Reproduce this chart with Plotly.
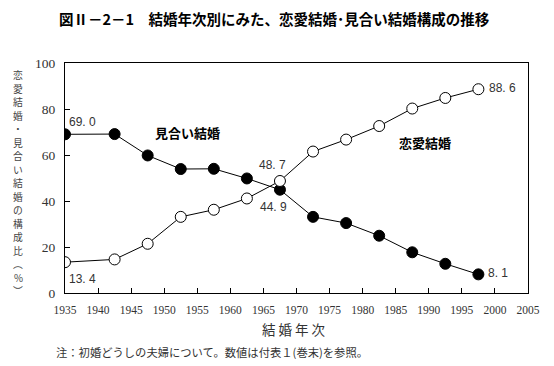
import plotly.graph_objects as go

years = [1935, 1942.5, 1947.5, 1952.5, 1957.5, 1962.5, 1967.5, 1972.5, 1977.5, 1982.5, 1987.5, 1992.5, 1997.5]
miai = [69.0, 69.1, 59.8, 53.9, 54.0, 49.8, 44.9, 33.1, 30.4, 24.9, 17.7, 12.7, 8.1]
renai = [13.4, 14.6, 21.4, 33.1, 36.2, 41.1, 48.7, 61.5, 66.7, 72.6, 80.2, 84.8, 88.6]
x_ticks = list(range(1935, 2006, 5))
y_ticks = [0, 20, 40, 60, 80, 100]

title = "図Ⅱ－2－1　結婚年次別にみた、恋愛結婚･見合い結婚構成の推移"
y_label = "恋愛結婚・見合い結婚の構成比︵%︶"
x_label = "結 婚 年 次"
note = "注：初婚どうしの夫婦について。数値は付表１(巻末)を参照。"

GOTHIC = "Noto Sans CJK JP"
SERIF = "Liberation Serif, serif"
NARROW = "Liberation Sans Narrow, Liberation Sans, sans-serif"

W, H = 554, 366
ML, MR, MT, MB = 65, 26, 63, 73
PW, PH = W - ML - MR, H - MT - MB


def px(x, y):
    """pixel position on page -> paper coordinates"""
    return (x - ML) / PW, (H - MB - y) / PH


fig = go.Figure()
fig.add_trace(go.Scatter(
    x=years, y=miai, mode="lines+markers", name="見合い結婚",
    line=dict(color="black", width=1),
    marker=dict(size=11, color="black", line=dict(color="black", width=1)),
))
fig.add_trace(go.Scatter(
    x=years, y=renai, mode="lines+markers", name="恋愛結婚",
    line=dict(color="black", width=1),
    marker=dict(size=11, color="white", line=dict(color="black", width=1)),
))

label_font = dict(family=NARROW, size=12, color="#333333")


def lab(x, y, v, xs, ys):
    fig.add_annotation(x=x, y=y, text=f"{v:.1f}".replace(".", ". "), showarrow=False,
                       xref="x", yref="y", xshift=xs, yshift=ys, font=label_font)


lab(years[0], miai[0], miai[0], 17, 12)
lab(years[0], renai[0], renai[0], 17, -17)
lab(years[6], renai[6], renai[6], -7, 16)
lab(years[6], miai[6], miai[6], -6, -17)
lab(years[-1], renai[-1], renai[-1], 24, 1)
lab(years[-1], miai[-1], miai[-1], 20, 1)

fig.add_annotation(x=1953.5, y=70, text="<b>見合い結婚</b>", showarrow=False,
                   font=dict(family=GOTHIC, size=13, color="black"))
fig.add_annotation(x=1989.5, y=65.5, text="<b>恋愛結婚</b>", showarrow=False,
                   font=dict(family=GOTHIC, size=13, color="black"))

# title
tx, ty = px(274, 18)
fig.add_annotation(x=tx, y=ty, xref="paper", yref="paper", text=f"<b>{title}</b>",
                   showarrow=False, xanchor="center", yanchor="middle",
                   font=dict(family=GOTHIC, size=14.5, color="black"))

# vertical y label, one character per row
y0, y1 = 75, 291
step = (y1 - y0) / (len(y_label) - 1)
for i, ch in enumerate(y_label):
    ax, ay = px(18, y0 + i * step)
    fig.add_annotation(x=ax, y=ay, xref="paper", yref="paper", text=ch, showarrow=False,
                       xanchor="center", yanchor="middle", borderpad=0,
                       font=dict(family=GOTHIC, size=9.8, color="#444444"))

ax, ay = px(294, 329)
fig.add_annotation(x=ax, y=ay, xref="paper", yref="paper", text=x_label, showarrow=False,
                   xanchor="center", yanchor="middle",
                   font=dict(family=GOTHIC, size=13.5, color="#333333"))
ax, ay = px(54, 352)
fig.add_annotation(x=ax, y=ay, xref="paper", yref="paper", text=note, showarrow=False,
                   xanchor="left", yanchor="middle",
                   font=dict(family=GOTHIC, size=11.3, color="#333333"))

fig.update_layout(
    width=W, height=H,
    margin=dict(l=ML, r=MR, t=MT, b=MB),
    paper_bgcolor="white", plot_bgcolor="white",
    showlegend=False,
    xaxis=dict(range=[1935, 2005], tickvals=x_ticks, ticktext=[str(t) for t in x_ticks],
               ticks="inside", ticklen=5, tickcolor="black", showgrid=False, zeroline=False,
               showline=True, linecolor="black", linewidth=1, mirror=True,
               ticklabelstandoff=6,
               tickfont=dict(family=SERIF, size=11.5, color="#333333")),
    yaxis=dict(range=[0, 100], tickvals=y_ticks, ticks="inside", ticklen=5, tickcolor="black",
               showgrid=False, zeroline=False, showline=True, linecolor="black", linewidth=1,
               mirror=True, ticklabelstandoff=6,
               tickfont=dict(family=SERIF, size=13.5, color="#333333")),
)

fig.write_html("out.html", config={"displayModeBar": False},
               post_script="document.body.style.margin='0';document.body.style.overflow='hidden';")
